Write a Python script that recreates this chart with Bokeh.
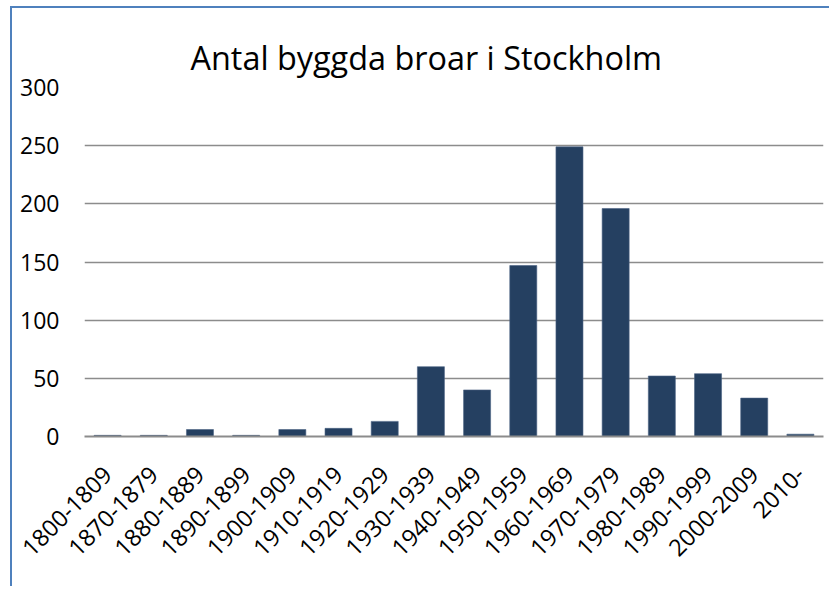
import math
from bokeh.plotting import figure
from bokeh.models import FactorRange, Range1d, FixedTicker
from bokeh.embed import file_html
from bokeh.resources import INLINE

categories = ["1800-1809", "1870-1879", "1880-1889", "1890-1899", "1900-1909",
              "1910-1919", "1920-1929", "1930-1939", "1940-1949", "1950-1959",
              "1960-1969", "1970-1979", "1980-1989", "1990-1999", "2000-2009", "2010-"]
counts = [1, 1, 6, 1, 6, 7, 13, 60, 40, 147, 249, 196, 52, 54, 33, 2]
y_ticks = [0, 50, 100, 150, 200, 250, 300]

FONT = "Open Sans"

p = figure(width=819, height=580, x_range=FactorRange(*categories, range_padding=0),
           y_range=Range1d(0, 300), output_backend="svg", toolbar_location=None,
           title="Antal byggda broar i Stockholm",
           min_border_left=72, min_border_right=8, min_border_top=79, min_border_bottom=152)

p.styles = {"border-left": "2px solid #4F81BD", "border-top": "2px solid #4F81BD",
            "margin-left": "10px", "margin-top": "6px"}

p.vbar(x=categories, top=counts, width=0.585, fill_color="#254061",
       line_color="#4a6283", line_width=0.6)

p.title.text_font = FONT
p.title.text_font_size = "32.4px"
p.title.text_font_style = "normal"
p.title.text_color = "#000000"
p.title.align = "left"
p.title.offset = 106
p.title.standoff = 17

p.outline_line_color = None
p.background_fill_color = "white"
p.border_fill_color = "white"

p.xgrid.grid_line_color = None
p.ygrid.grid_line_color = "#8c8c8c"
p.ygrid.grid_line_width = 1.5
p.yaxis.ticker = FixedTicker(ticks=y_ticks)

p.yaxis.axis_line_color = None
p.yaxis.major_tick_line_color = None
p.yaxis.minor_tick_line_color = None
p.yaxis.major_tick_out = 0
p.yaxis.major_label_standoff = 25
p.yaxis.major_label_text_font = FONT
p.yaxis.major_label_text_font_size = "23px"
p.yaxis.major_label_text_color = "#000000"

p.xaxis.axis_line_color = "#8c8c8c"
p.xaxis.axis_line_width = 2
p.xaxis.major_tick_line_color = None
p.xaxis.minor_tick_line_color = None
p.xaxis.major_tick_out = 0
p.xaxis.major_label_standoff = 34
p.xaxis.major_label_orientation = math.pi / 4
p.xaxis.major_label_text_font = FONT
p.xaxis.major_label_text_font_size = "23.5px"
p.xaxis.major_label_text_color = "#000000"

open("out.html", "w").write(file_html(p, INLINE))
